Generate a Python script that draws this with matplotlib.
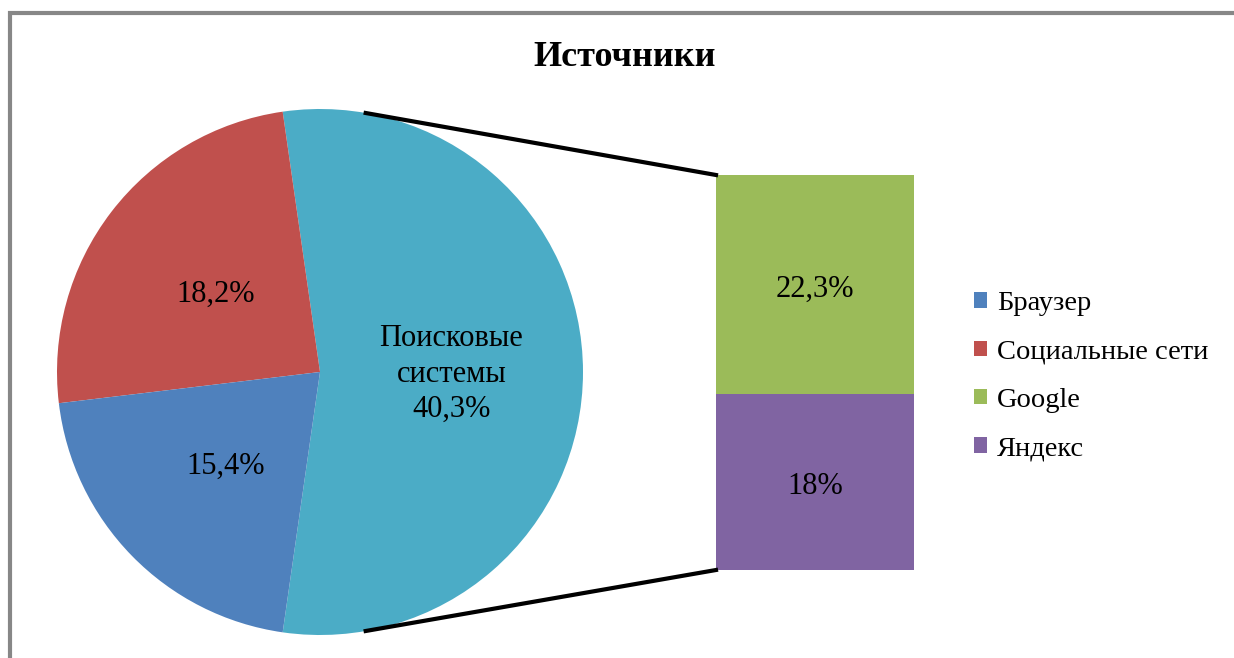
import numpy as np
import matplotlib
matplotlib.use("Agg")
import matplotlib.pyplot as plt
from matplotlib.patches import Patch

plt.rcParams['font.family'] = ['Liberation Serif', 'DejaVu Serif']

# ---- data ----
pie_labels = ["Поисковые системы", "Социальные сети", "Браузер"]
pie_values = [40.3, 18.2, 15.4]
pie_colors = ["#4BACC6", "#C0504D", "#4F81BD"]
bar_labels = ["Яндекс", "Google"]
bar_values = [18.0, 22.3]
bar_colors = ["#8064A2", "#9BBB59"]
title = "Источники"
legend_order = ["Браузер", "Социальные сети", "Google", "Яндекс"]

def fmt(v):
    s = f"{v:.1f}".rstrip("0").rstrip(".")
    return s.replace(".", ",") + "%"

W, H = 1234, 658
fig = plt.figure(figsize=(W / 100, H / 100), dpi=100)
ax = fig.add_axes([0, 0, 1, 1])

# pie
cx, cy, R = 320, H - 372, 263
frac_search = pie_values[0] / sum(pie_values)
start = -frac_search * 180
wedges, _ = ax.pie(pie_values, colors=pie_colors, startangle=start,
                   center=(cx, cy), radius=R, frame=True,
                   wedgeprops=dict(linewidth=0))
ax.set_xlim(0, W)
ax.set_ylim(0, H)
ax.set_aspect("equal")
ax.axis("off")

# frame (left and top edges visible)
ax.plot([9.5, 9.5, W], [0, H - 13, H - 13], color="#878787", lw=3, solid_joinstyle="miter")

fs = 22
for w, lab, v in zip(wedges, pie_labels, pie_values):
    mid = np.deg2rad((w.theta1 + w.theta2) / 2)
    x = cx + 0.5 * R * np.cos(mid)
    y = cy + 0.5 * R * np.sin(mid) - 2
    txt = fmt(v) if lab != pie_labels[0] else lab.replace(" ", "\n") + "\n" + fmt(v)
    ax.text(x, y, txt, ha="center", va="center", fontsize=fs, linespacing=1.3)

# stacked bar
bx, bw = 815, 198
scale = (570 - 175) / sum(bar_values)
bottom = H - 570
for lab, v, c in zip(bar_labels, bar_values, bar_colors):
    ax.bar(bx, v * scale, width=bw, bottom=bottom, color=c, linewidth=0)
    ax.text(bx, bottom + v * scale / 2 - 5, fmt(v), ha="center", va="center", fontsize=fs)
    bottom += v * scale

# connector lines
ang = np.deg2rad(80)
ax.plot([cx + R * np.cos(ang), bx - bw / 2], [cy + R * np.sin(ang), bottom], color="black", lw=3)
ax.plot([cx + R * np.cos(-ang), bx - bw / 2], [cy + R * np.sin(-ang), H - 570], color="black", lw=3)

# title
ax.text(625, H - 66, title, ha="center", va="baseline", fontsize=26, fontweight="bold")

# legend
color_map = dict(zip(pie_labels + bar_labels, pie_colors + bar_colors))
handles = [Patch(facecolor=color_map[l], edgecolor="none", label=l) for l in legend_order]
ax.legend(handles=handles, loc="upper left", bbox_to_anchor=(974 / W, 1 - 291 / H),
          frameon=False, fontsize=20.5, handlelength=0.45, handleheight=0.45,
          handletextpad=0.35, labelspacing=0.82, borderaxespad=0, borderpad=0)

fig.savefig("out.png", dpi=100)
